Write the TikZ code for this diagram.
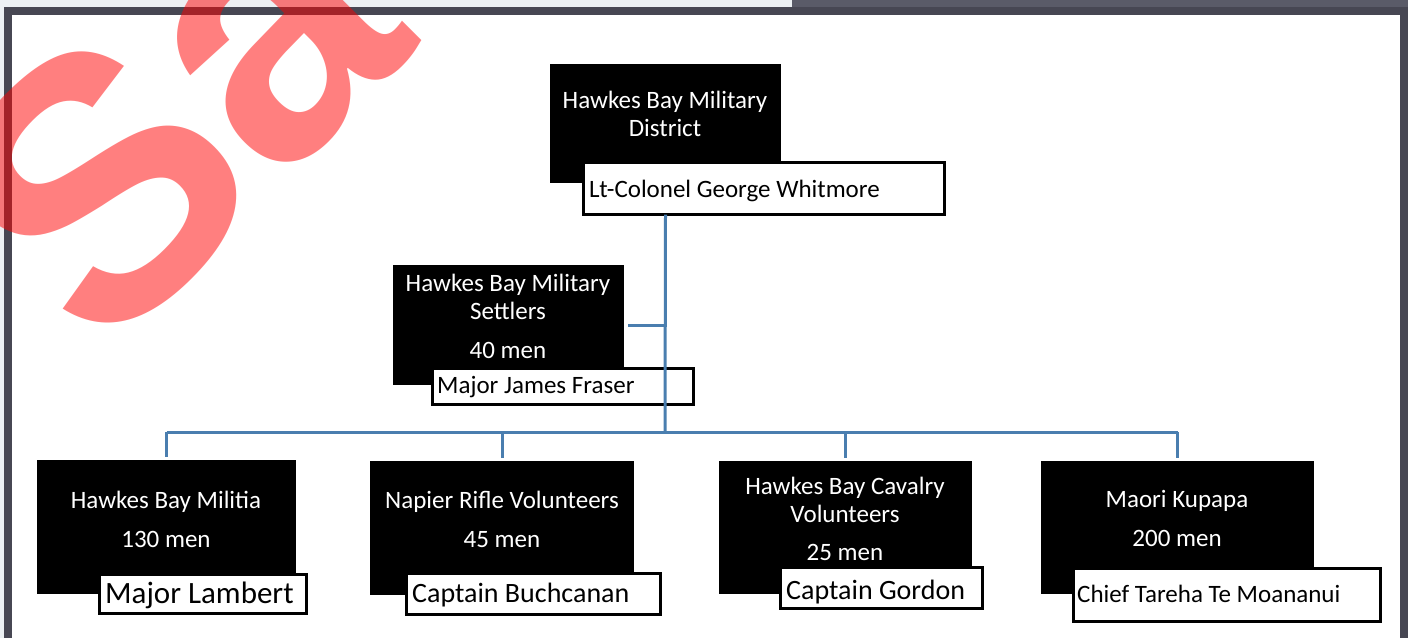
\documentclass[tikz,border=0pt]{standalone}
\usepackage{fontspec}
\setmainfont{Carlito}
\newfontfamily\markfont{Liberation Sans}
\definecolor{lightbg}{RGB}{236,240,243}
\definecolor{stripdark}{RGB}{90,91,104}
\definecolor{framedark}{RGB}{71,71,83}
\definecolor{linkblue}{RGB}{74,126,175}
\tikzset{
  blackbox/.style={fill=black, draw=none, inner sep=0pt, outer sep=0pt, anchor=north west},
  namebox/.style={fill=white, draw=black, line width=3pt, inner sep=0pt, outer sep=0pt, anchor=north west},
  wt/.style={text=white, font=\fontsize{25}{30}\selectfont, anchor=base, inner sep=0pt},
  bt/.style={text=black, anchor=base west, inner sep=0pt},
  conn/.style={draw=linkblue, line width=3pt},
}
\begin{document}
\begin{tikzpicture}[x=1pt, y=-1pt]
\useasboundingbox (0,0) rectangle (1408,638);
% frame
\fill[lightbg] (0,0) rectangle (792,7);
\fill[stripdark] (792,0) rectangle (1408,7);
\fill[lightbg] (0,7) rectangle (4,638);
\fill[framedark] (4,7) rectangle (1408,638);
\fill[white] (12,15) rectangle (1400,638);

% top level
\node[blackbox, minimum width=231pt, minimum height=119pt] (district) at (550,64) {};
\node[wt] (districtA) at (665,108) {Hawkes Bay Military};
\node[wt] (districtB) at (665,136) {District};
\node[namebox, minimum width=361pt, minimum height=52pt] (whitmore) at (583.5,162.5) {};
\node[bt, font=\fontsize{25}{30}\selectfont] (whitmoreT) at (589,197) {Lt-Colonel George Whitmore};

% settlers
\node[blackbox, minimum width=231pt, minimum height=120pt] (settlers) at (393,265) {};
\node[wt] (settlersA) at (508,291) {Hawkes Bay Military};
\node[wt] (settlersB) at (508,319) {Settlers};
\node[wt] (settlersC) at (508,358) {40 men};
\node[namebox, minimum width=261pt, minimum height=36pt] (fraser) at (432.5,368.5) {};
\node[bt, font=\fontsize{25}{30}\selectfont] (fraserT) at (437,393) {Major James Fraser};

% militia
\node[blackbox, minimum width=259pt, minimum height=134pt] (militia) at (37,460) {};
\node[wt] (militiaA) at (166,508) {Hawkes Bay Militia};
\node[wt] (militiaB) at (166,547) {130 men};
\node[namebox, minimum width=207pt, minimum height=39pt] (lambert) at (99.5,574.5) {};
\node[bt, font=\fontsize{31}{36}\selectfont] (lambertT) at (105,603) {Major Lambert};

% napier
\node[blackbox, minimum width=264pt, minimum height=134pt] (napier) at (370,461) {};
\node[wt] (napierA) at (502,508) {Napier Rifle Volunteers};
\node[wt] (napierB) at (502,547) {45 men};
\node[namebox, minimum width=254pt, minimum height=41pt] (buchcanan) at (406.5,573.5) {};
\node[bt, font=\fontsize{28}{33}\selectfont] (buchcananT) at (412,602) {Captain Buchcanan};

% cavalry
\node[blackbox, minimum width=253pt, minimum height=133pt] (cavalry) at (719,461) {};
\node[wt] (cavalryA) at (845,494) {Hawkes Bay Cavalry};
\node[wt] (cavalryB) at (845,522) {Volunteers};
\node[wt] (cavalryC) at (845,560) {25 men};
\node[namebox, minimum width=202pt, minimum height=41pt] (gordon) at (780.5,567.5) {};
\node[bt, font=\fontsize{28}{33}\selectfont] (gordonT) at (786,599) {Captain Gordon};

% maori
\node[blackbox, minimum width=273pt, minimum height=133pt] (maori) at (1041,461) {};
\node[wt] (maoriA) at (1177,507) {Maori Kupapa};
\node[wt] (maoriB) at (1177,546) {200 men};
\node[namebox, minimum width=307pt, minimum height=53pt] (moananui) at (1073.5,568.5) {};
\node[bt, font=\fontsize{25}{30}\selectfont] (moananuiT) at (1077,602) {Chief Tareha Te Moananui};

% connectors
\coordinate (hub) at (665,432);
\draw[conn] (district.south |- whitmore.south) -- (hub);
\draw[conn, shorten <=4pt] (settlers.east) -- (settlers.east -| hub);
\draw[conn] (militia.north |- hub) -- (maori.north |- hub);
\draw[conn, shorten >=3pt] (militia.north |- hub) -- (militia.north);
\draw[conn, shorten >=3pt] (napier.north |- hub) -- (napier.north);
\draw[conn, shorten >=3pt] (cavalry.north |- hub) -- (cavalry.north);
\draw[conn, shorten >=3pt] (maori.north |- hub) -- (maori.north);

% watermark
\begin{scope}
\clip (0,0) rectangle (1408,638);
\node[anchor=base west, inner sep=0pt, rotate=45, text=red, text opacity=0.5,
      font=\markfont\fontsize{370}{370}\bfseries\selectfont] (mark) at (102,364) {Sa};
\end{scope}
\end{tikzpicture}
\end{document}
